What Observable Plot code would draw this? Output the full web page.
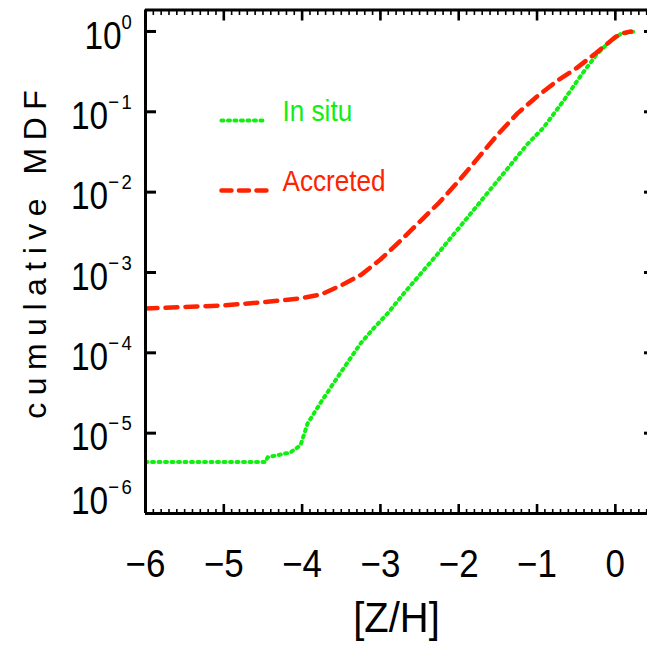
<!DOCTYPE html>
<html>
<head>
<meta charset="utf-8">
<script src="https://cdn.jsdelivr.net/npm/d3@7"></script>
<script src="https://cdn.jsdelivr.net/npm/@observablehq/plot@0.6"></script>
<style>
  html, body { margin: 0; padding: 0; background: #fff; overflow: hidden; }
  #chart svg { display: block; }
</style>
</head>
<body>
<div id="chart"></div>
<script>
// ---- data ----
const insituZH  = [-6.0, -4.47, -4.44, -4.15, -4.02, -3.93, -3.77, -3.6, -3.42, -3.25, -3.09, -2.9, -2.7, -2.27, -1.85, -1.43, -1.12, -0.92, -0.66, -0.44, -0.25, -0.10, 0.07, 0.26];
const insituMDF = [4.37e-6, 4.37e-6, 5.01e-6, 5.75e-6, 7.08e-6, 1.32e-5, 2.34e-5, 4.17e-5, 7.59e-5, 1.32e-4, 2.00e-4, 3.16e-4, 5.50e-4, 1.70e-3, 5.37e-3, 1.70e-2, 3.98e-2, 6.31e-2, 0.138, 0.282, 0.501, 0.708, 0.933, 1.0];

const accretedZH  = [-6.0, -5.5, -5.0, -4.5, -4.0, -3.75, -3.5, -3.25, -3.0, -2.75, -2.5, -2.25, -2.0, -1.75, -1.5, -1.25, -1.0, -0.75, -0.5, -0.25, 0.0, 0.1, 0.2];
const accretedMDF = [3.55e-4, 3.72e-4, 3.89e-4, 4.27e-4, 4.79e-4, 5.37e-4, 6.92e-4, 9.33e-4, 1.45e-3, 2.45e-3, 4.27e-3, 7.41e-3, 1.38e-2, 2.69e-2, 5.25e-2, 9.55e-2, 0.155, 0.240, 0.347, 0.537, 0.851, 0.955, 1.0];

const seriesNames = ["In situ", "Accreted"];
const xTickValues = [-6, -5, -4, -3, -2, -1, 0];
const yTickExponents = [0, -1, -2, -3, -4, -5, -6];
const xLabel = "[Z/H]";
const yLabel = "cumulative MDF";

// ---- build ----
const green = "#11ee11";
const red = "#ff2200";
const insitu = insituZH.map((z, i) => ({z, f: insituMDF[i]}));
const accreted = accretedZH.map((z, i) => ({z, f: accretedMDF[i]}));
const yTickValues = yTickExponents.map(e => Math.pow(10, e));
const xMinor = d3.range(-60, 6).map(i => i / 10);
const fmtNum = v => (v < 0 ? "\u2212" + Math.abs(v) : String(v));
const xDomain = [-6, 0.5];
const yDomain = [1e-6, 1.85];

const legendX = [-5.03, -4.45];
const legendTextX = -4.25;
const legendY = [0.078, 0.0105];
const legendLines = [
  legendX.map(x => ({x, y: legendY[0]})),
  legendX.map(x => ({x, y: legendY[1]}))
];

const noText = () => "";
const font = "Liberation Sans";

const chart = Plot.plot({
  width: 647,
  height: 650,
  marginLeft: 145,
  marginRight: 0,
  marginTop: 9.5,
  marginBottom: 137,
  x: {domain: xDomain, range: [145, 654], axis: null},
  y: {type: "log", domain: yDomain, axis: null},
  style: {background: "#fff", fontFamily: font, color: "#000"},
  marks: [
    // data
    Plot.line(insitu, {x: "z", y: "f", stroke: green, strokeWidth: 4, strokeDasharray: "2,4.5", clip: true}),
    Plot.line(accreted, {x: "z", y: "f", stroke: red, strokeWidth: 4.5, strokeDasharray: "12,8", clip: true}),

    // frame
    Plot.ruleX([xDomain[0]], {strokeWidth: 3}),
    Plot.ruleY([yDomain[0]], {strokeWidth: 3}),
    Plot.ruleY([yDomain[1]], {strokeWidth: 3}),

    // ticks
    Plot.axisX({anchor: "bottom", ticks: xMinor, tickSize: -4, strokeWidth: 1.6, tickFormat: noText, label: null}),
    Plot.axisX({anchor: "bottom", ticks: xTickValues, tickSize: -9, strokeWidth: 2.6, tickFormat: noText, label: null}),
    Plot.axisX({anchor: "top", ticks: xMinor, tickSize: -4.5, strokeWidth: 1.6, tickFormat: noText, label: null}),
    Plot.axisX({anchor: "top", ticks: xTickValues, tickSize: -10, strokeWidth: 2.6, tickFormat: noText, label: null}),
    Plot.axisY({anchor: "left", ticks: yTickValues, tickSize: -11, strokeWidth: 3, tickFormat: noText, label: null}),
    Plot.axisY({anchor: "right", ticks: yTickValues, tickSize: -4, strokeWidth: 3, tickFormat: noText, label: null}),

    // tick labels
    Plot.text(xTickValues, {x: d => d, frameAnchor: "bottom", dy: 51, text: fmtNum, fontSize: 38, textAnchor: "middle", lineAnchor: "middle"}),
    Plot.text(yTickExponents.filter(e => e > -6), {y: e => Math.pow(10, e), frameAnchor: "left", dx: -11, dy: 5, textAnchor: "end", lineAnchor: "middle", text: e => "10|" + fmtNum(e), fontSize: 38}),
    Plot.text(yTickExponents.filter(e => e === -6), {y: e => Math.pow(10, e), frameAnchor: "left", dx: -11, dy: -12, textAnchor: "end", lineAnchor: "middle", text: e => "10|" + fmtNum(e), fontSize: 38}),

    // axis titles
    Plot.text([xLabel], {frameAnchor: "bottom", dy: 105, fontSize: 42, textAnchor: "middle", lineAnchor: "middle"}),
    Plot.text([yLabel], {frameAnchor: "left", dx: -110, dy: -11, rotate: -90, fontSize: 32, textAnchor: "middle", lineAnchor: "middle"}),

    // legend
    Plot.line(legendLines[0], {x: "x", y: "y", stroke: green, strokeWidth: 4, strokeDasharray: "2,4.5"}),
    Plot.line(legendLines[1], {x: "x", y: "y", stroke: red, strokeWidth: 4.5, strokeDasharray: "10,7.5"}),
    Plot.text([0, 1], {x: () => legendTextX, y: i => legendY[i], dy: -9, text: i => seriesNames[i], fill: i => [green, red][i], textAnchor: "start", lineAnchor: "middle", fontSize: 30})
  ]
});

// ---- text post-processing: superscripts, narrower glyphs, spacing ----
const svgNS = "http://www.w3.org/2000/svg";
function squeeze(t, sx) {
  const tr = t.getAttribute("transform");
  if (tr) {
    t.setAttribute("transform", tr + ` scale(${sx},1)`);
    return;
  }
  const x = parseFloat(t.getAttribute("x")) || 0;
  const y = parseFloat(t.getAttribute("y")) || 0;
  t.setAttribute("x", x / sx);
  t.setAttribute("transform", `scale(${sx},1)`);
}
const xTickTexts = xTickValues.map(fmtNum);
chart.querySelectorAll("text").forEach(t => {
  const s = t.textContent;
  if (s.includes("|")) {
    const parts = s.split("|");
    t.textContent = parts[0];
    const ts = document.createElementNS(svgNS, "tspan");
    ts.setAttribute("dy", "-20");
    ts.setAttribute("font-size", "21");
    ts.setAttribute("letter-spacing", "3");
    ts.textContent = parts[1];
    t.appendChild(ts);
    squeeze(t, 0.88);
  } else if (s === yLabel) {
    t.setAttribute("letter-spacing", "7.5");
  } else if (seriesNames.includes(s)) {
    squeeze(t, 0.87);
  } else if (xTickTexts.includes(s)) {
    squeeze(t, 0.92);
  } else if (s === xLabel) {
    squeeze(t, 0.95);
  }
});

document.getElementById("chart").appendChild(chart);
</script>
</body>
</html>
